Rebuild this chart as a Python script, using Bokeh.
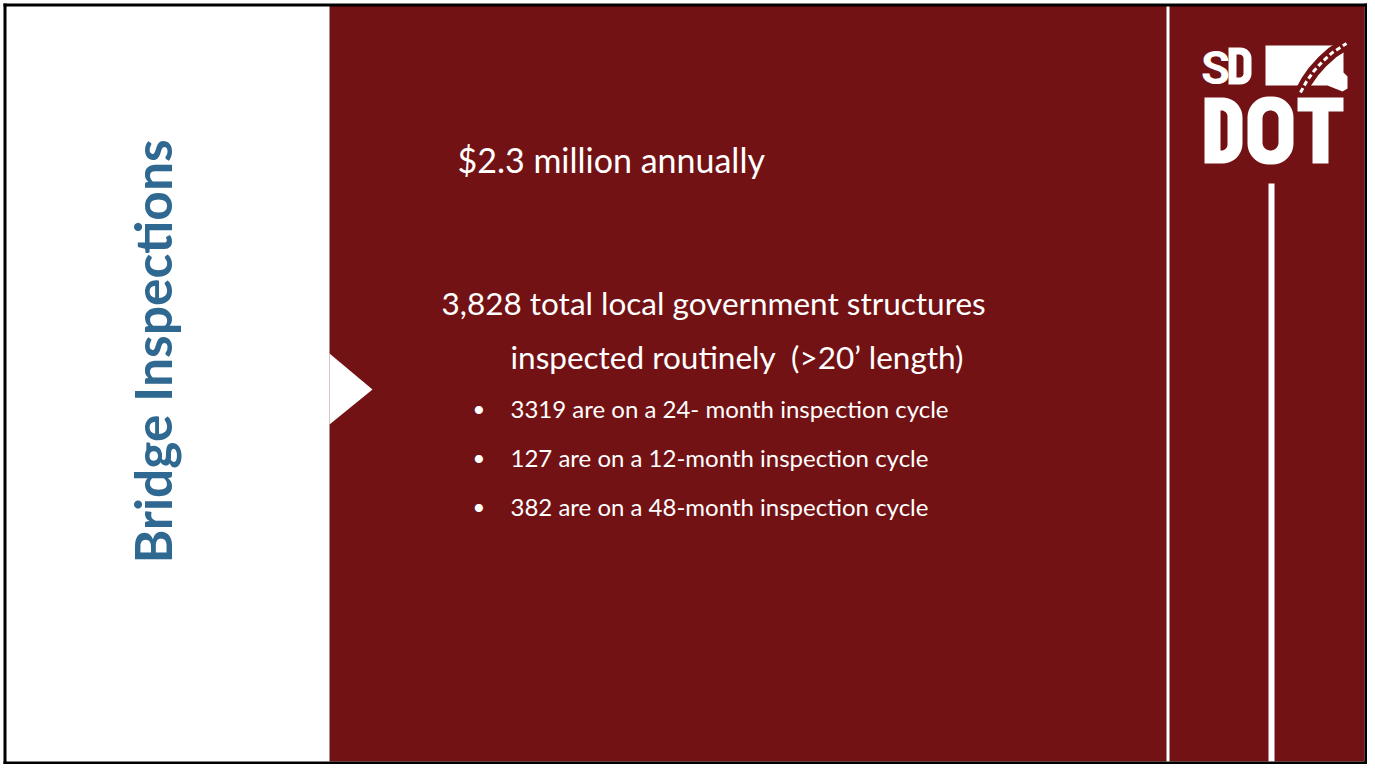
from math import pi, cos, sin
from bokeh.plotting import figure
from bokeh.models import Range1d
from bokeh.core.properties import value
from bokeh.embed import file_html
from bokeh.resources import INLINE

# ---- content ----
title_text = "Bridge Inspections"
headline = "$2.3 million annually"
summary_lines = ["3,828 total local government structures",
                 "inspected routinely \u00a0(>20\u2019 length)"]
summary_x = [441, 510]
summary_y = [302, 356]
bullets = ["3319 are on a 24- month inspection cycle",
           "127 are on a 12-month inspection cycle",
           "382 are on a 48-month inspection cycle"]
bullet_y = [408, 457, 506]

# ---- logo geometry (decoration) ----
state_x = [1265, 1340, 1343, 1343, 1347, 1347, 1342, 1327, 1265]
state_y = [45, 45, 50, 72, 76, 88, 91, 85, 85]
road_x = [1300, 1306, 1313, 1322, 1332, 1346]
road_y = [92, 81, 71, 61, 52, 43]

RED = "#731214"
BLUE = "#2F6890"
W, H = 1367, 764


def rrect(x0, x1, y0, y1, r_tl, r_tr, r_br, r_bl, n=10):
    """rounded rectangle outline in screen-like coords (y grows downward)"""
    xs, ys = [], []
    corners = [((x0 + r_tl, y0 + r_tl), r_tl, pi, 1.5 * pi),
               ((x1 - r_tr, y0 + r_tr), r_tr, 1.5 * pi, 2 * pi),
               ((x1 - r_br, y1 - r_br), r_br, 0.0, 0.5 * pi),
               ((x0 + r_bl, y1 - r_bl), r_bl, 0.5 * pi, pi)]
    for (cx, cy), r, a0, a1 in corners:
        for i in range(n + 1):
            a = a0 + (a1 - a0) * i / n
            xs.append(cx + r * cos(a))
            ys.append(cy + r * sin(a))
    return xs, ys


p = figure(width=W, height=H, x_range=Range1d(0, W), y_range=Range1d(H, 0),
           output_backend="svg", toolbar_location=None, min_border=0)
p.axis.visible = False
p.grid.visible = False
p.outline_line_color = None
p.background_fill_color = "white"
p.border_fill_color = "white"

# red panel
p.quad(left=[329], right=[W - 3], top=[5], bottom=[H - 3], fill_color=RED, line_color=None)
# white arrow notch
p.patch([329, 372, 329], [353, 389, 424], fill_color="white", line_color=None)
# white vertical stripes
p.quad(left=[1166], right=[1169], top=[5], bottom=[H], fill_color="white", line_color=None)
p.quad(left=[1268], right=[1274], top=[183], bottom=[H], fill_color="white", line_color=None)

# vertical title
p.text(x=[151], y=[351], text=[title_text], angle=pi / 2, text_align="center",
       text_baseline="middle", text_font=value("Lato"), text_font_style="bold",
       text_font_size="51.5px", text_color=BLUE)

# body text
p.text(x=[457], y=[159], text=[headline], text_font=value("Lato"), text_font_size="34px",
       text_color="white", text_baseline="middle")
p.text(x=summary_x, y=summary_y, text=summary_lines, text_font=value("Lato"),
       text_font_size="31.5px", text_color="white", text_baseline="middle")
p.text(x=[472] * len(bullets), y=bullet_y, text=["\u2022"] * len(bullets), text_font=value("Lato"),
       text_font_size="22px", text_color="white", text_baseline="middle")
p.text(x=[510] * len(bullets), y=bullet_y, text=bullets, text_font=value("Lato"),
       text_font_size="24px", text_color="white", text_baseline="middle")

# ---- logo ----
p.patch(state_x, state_y, fill_color="white", line_color=None)
p.line(road_x, road_y, line_color=RED, line_width=12)
p.line(road_x, road_y, line_color="white", line_width=3, line_dash="5 3")

# "S" as text, "D" of SD and "DOT" as shapes (condensed letterforms)
p.text(x=[1215], y=[67], text=["S"], text_font=value("Roboto"), text_font_style="bold",
       text_font_size="47px", text_color="white", text_align="center", text_baseline="middle")

letters_xs, letters_ys = [], []
# small D
ox, oy = rrect(1228, 1251, 47, 84, 0, 11, 11, 0)
ix, iy = rrect(1236, 1243, 54, 77, 0, 4, 4, 0)
letters_xs.append([[ox, ix]]); letters_ys.append([[oy, iy]])
# big D
ox, oy = rrect(1204, 1242, 97, 163, 0, 20, 20, 0)
ix, iy = rrect(1220, 1227, 110, 150, 0, 6, 6, 0)
letters_xs.append([[ox, ix]]); letters_ys.append([[oy, iy]])
# O
ox, oy = rrect(1247, 1293, 96, 164, 21, 21, 21, 21)
ix, iy = rrect(1262, 1278, 110, 150, 8, 8, 8, 8)
letters_xs.append([[ox, ix]]); letters_ys.append([[oy, iy]])
# T
tx = [1297, 1343, 1343, 1328, 1328, 1312, 1312, 1297]
ty = [97, 97, 111, 111, 163, 163, 111, 111]
letters_xs.append([[tx]]); letters_ys.append([[ty]])
p.multi_polygons(xs=letters_xs, ys=letters_ys, fill_color="white", line_color=None)

# slide border
p.quad(left=[3, 3, 3, W - 3], right=[6, W, W, W],
       top=[3, 3, H - 3, 3], bottom=[H, 6, H, H],
       fill_color="black", line_color=None)

open("out.html", "w").write(file_html(p, INLINE))
